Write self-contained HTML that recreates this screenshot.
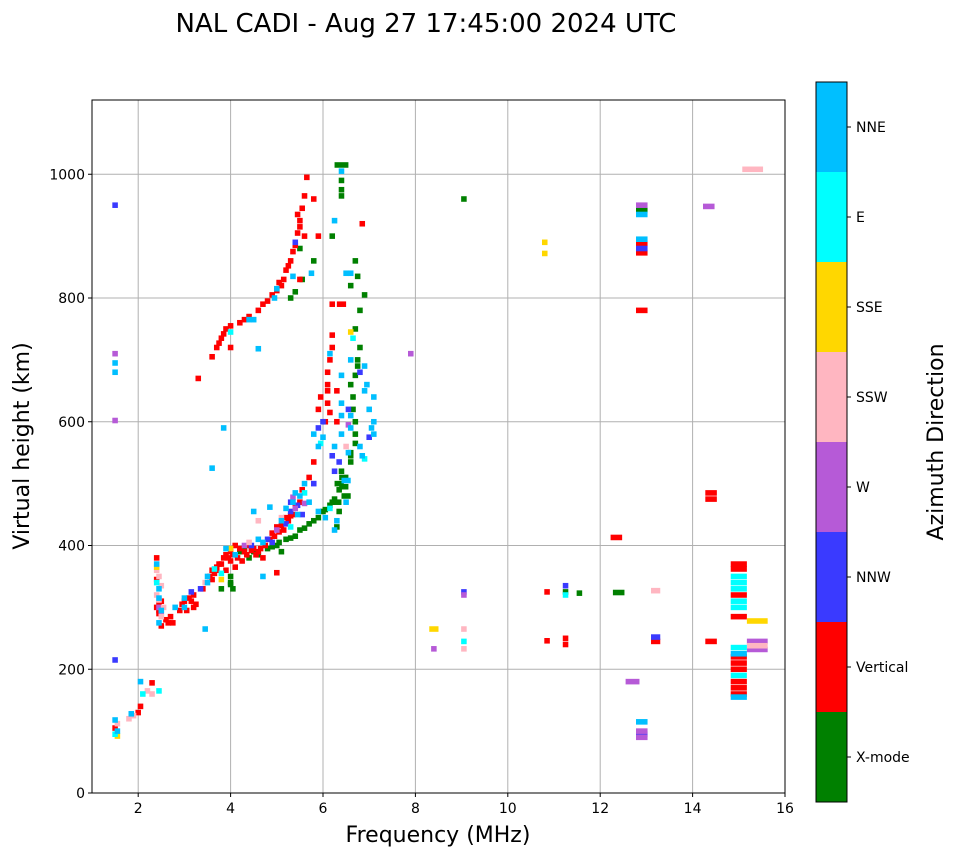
<!DOCTYPE html>
<html><head><meta charset="utf-8"><style>
body{margin:0;background:#fff;width:958px;height:857px;overflow:hidden;font-family:"Liberation Sans","DejaVu Sans",sans-serif;}
svg text{font-family:"DejaVu Sans","Liberation Sans",sans-serif;}
</style></head><body>
<svg id="chart" width="958" height="857" xmlns="http://www.w3.org/2000/svg">
<text x="426" y="32" font-size="26" text-anchor="middle">NAL CADI - Aug 27 17:45:00 2024 UTC</text>
<g id="grid"></g>
<g id="marks"></g>
<rect x="92" y="100" width="693" height="693" fill="none" stroke="#000" stroke-width="1"/>
<g id="axes"></g>
<text x="438" y="842" font-size="22" text-anchor="middle">Frequency (MHz)</text>
<text transform="translate(29,446) rotate(-90)" font-size="22" text-anchor="middle">Virtual height (km)</text>
<g id="cbar"></g>
<text transform="translate(943,442) rotate(-90)" font-size="22" text-anchor="middle">Azimuth Direction</text>
</svg>
<script>
const directions=["X-mode","Vertical","NNW","W","SSW","SSE","E","NNE"];
const dirColors=["#008000","#ff0000","#3a3aff","#b65ad7","#ffb6c1","#ffd700","#00ffff","#00bfff"];
const xTicks=[2,4,6,8,10,12,14,16];
const yTicks=[0,200,400,600,800,1000];
// series: [freq MHz, height km, optional width in MHz]
const sXmode=[[3.8,330],[4.0,340],[4.0,350],[4.4,380],[4.6,385],[4.8,395],[5.0,400],[5.2,410],[5.4,415],[5.5,425],[5.7,435],[5.9,445],[6.0,455],[6.15,465],[6.25,475],[6.35,490],[6.35,500,0.2],[6.4,520],[6.6,535],[6.6,550],[6.7,600],[6.65,640],[6.7,675],[6.75,700],[6.8,720],[6.7,750],[6.8,780],[6.9,805],[6.3,430],[6.35,455],[6.3,470,0.2],[5.5,880],[5.3,800],[5.8,860],[5.55,830],[5.4,810],[6.4,1015,0.3],[6.4,990],[6.4,975],[6.4,965],[6.2,900],[6.7,860],[6.75,835],[6.6,820],[9.05,960],[11.25,325],[11.55,323],[12.4,324,0.25],[12.9,942,0.25],[4.3,395],[5.1,390],[6.45,510,0.2],[6.5,480,0.2],[4.0,337],[6.6,660],[6.7,565],[5.05,405],[5.3,412],[5.6,428],[5.8,440],[6.05,458],[6.2,470],[4.9,398],[4.5,390],[6.45,495,0.2],[6.6,545],[6.65,620],[6.75,690],[6.7,580],[4.2,390],[4.05,330]];
const sVertical=[[1.5,105],[2.0,130],[2.05,140],[2.3,178],[2.4,380],[2.4,345],[2.45,305],[2.45,295],[2.6,280],[2.7,285],[2.75,275],[2.9,295],[3.0,310],[3.1,315],[3.2,320],[3.25,305],[3.55,350],[3.6,345],[3.7,360],[3.75,370],[3.85,380],[3.9,385],[4.0,390],[4.0,375],[4.2,395],[4.3,390],[4.4,400],[4.5,395],[4.6,390],[4.9,420],[5.0,430],[5.15,425],[5.2,445],[5.55,490],[5.7,510],[5.8,535],[6.05,600],[6.1,630],[6.1,660],[6.1,680],[6.2,740],[6.2,790],[6.4,790,0.2],[6.3,650],[5.9,620],[3.3,670],[3.6,705],[5.0,356],[3.7,720],[3.8,735],[3.9,750],[4.2,760],[4.4,770],[4.6,780],[4.8,795],[4.9,805],[5.05,825],[5.15,830],[5.2,845],[5.3,860],[5.35,875],[5.45,905],[5.5,925],[5.55,945],[5.6,965],[5.65,995],[5.8,960],[5.9,900],[6.85,920],[6.3,600],[10.85,325],[10.85,246],[11.25,250],[11.25,240],[12.35,413,0.25],[12.9,888,0.25],[12.9,873,0.25],[12.9,780,0.25],[13.2,245,0.2],[14.4,485,0.25],[14.4,475,0.25],[14.4,245,0.25],[15.0,370,0.35],[15.0,362,0.35],[15.0,320,0.35],[15.0,285,0.35],[15.0,220,0.35],[15.0,210,0.35],[15.0,200,0.35],[15.0,180,0.35],[15.0,170,0.35],[15.0,160,0.35],[2.5,270],[3.4,330],[4.1,400],[4.7,380],[5.25,440],[5.35,450],[2.45,290],[2.4,300],[2.5,310],[2.65,275],[2.95,305],[3.05,295],[3.15,310],[3.2,300],[3.65,355],[3.7,365],[3.8,370],[3.95,380],[4.05,385],[4.15,380],[4.25,375],[4.35,385],[4.45,392],[4.55,385],[4.65,395],[4.75,400],[4.85,410],[4.95,415],[5.05,422],[5.1,432],[5.3,448],[5.4,465],[5.5,470],[3.75,727],[3.85,742],[4.0,755],[4.3,765],[4.7,790],[5.0,812],[5.1,820],[5.25,852],[5.4,885],[5.5,915],[5.45,935],[6.15,700],[6.2,720],[6.1,650],[6.15,615],[5.95,640],[4.0,720],[5.5,830],[5.6,900],[4.1,365],[3.9,360],[3.6,360]];
const sNNW=[[1.5,950],[1.5,215],[3.35,330],[4.8,410],[5.3,455],[5.4,890],[5.9,590],[6.8,680],[7.0,575],[6.55,620],[9.05,325],[11.25,335],[12.9,880,0.25],[12.9,95,0.25],[13.2,252,0.2],[5.3,470],[6.2,545],[5.8,500],[5.45,465],[5.55,450],[5.2,435],[4.9,405],[4.45,400],[6.0,600],[6.25,520],[6.35,535],[3.15,325]];
const sW=[[1.5,710],[1.5,602],[5.4,460],[7.9,710],[8.4,233],[9.05,320],[12.9,950,0.25],[12.9,100,0.25],[12.9,90,0.25],[12.7,180,0.3],[14.35,948,0.25],[15.4,245,0.45],[15.4,232,0.45],[2.5,290],[5.0,425],[4.3,400],[5.6,468],[5.35,478],[6.55,595],[2.45,300]];
const sSSW=[[1.55,112],[1.8,120],[1.9,125],[2.2,165],[2.3,160],[2.4,360],[2.4,320],[2.5,285],[2.55,300],[4.6,440],[6.5,560],[9.05,265],[9.05,233],[13.2,327,0.2],[15.3,1008,0.45],[15.4,238,0.45],[2.45,350],[2.5,335],[2.45,312],[4.4,405],[3.45,340],[5.1,445]];
const sSSE=[[8.4,265,0.2],[10.8,890],[10.8,872],[6.6,745],[15.4,278,0.45],[1.55,92],[4.0,395],[2.4,365],[3.8,345]];
const sE=[[1.5,95],[2.1,160],[2.45,165],[3.8,355],[4.0,745],[6.65,735],[6.9,540],[9.05,245],[11.25,320],[15.0,350,0.35],[15.0,340,0.35],[15.0,330,0.35],[15.0,310,0.35],[15.0,300,0.35],[15.0,235,0.35],[15.0,190,0.35],[3.65,362],[5.3,430],[5.6,485],[6.15,460],[2.4,340],[5.95,565]];
const sNNE=[[1.55,100],[1.5,118],[2.05,180],[1.85,128],[1.5,695],[1.5,680],[2.4,370],[2.45,330],[2.45,275],[2.8,300],[3.0,300],[3.5,340],[4.1,385],[4.7,405],[5.1,440],[5.35,470],[5.5,480],[5.6,500],[5.9,560],[6.0,575],[6.15,710],[5.8,580],[3.6,525],[3.45,265],[3.85,590],[4.6,718],[4.7,350],[4.85,462],[4.5,455],[6.3,440],[6.25,425],[6.5,470],[4.5,765],[5.0,815],[5.75,840],[6.4,1005],[6.25,925],[6.5,840],[6.6,700],[6.9,650],[7.1,640],[7.0,620],[7.1,580],[6.8,560],[6.4,630],[6.4,580],[6.25,560],[12.9,935,0.25],[12.9,895,0.25],[12.9,115,0.25],[15.0,225,0.35],[15.0,155,0.35],[6.4,610],[6.6,590],[7.1,600],[2.45,315],[2.5,295],[3.0,315],[3.5,350],[3.9,395],[4.6,410],[5.2,460],[5.4,485],[5.45,450],[5.7,470],[5.9,455],[6.05,445],[6.5,505,0.2],[6.55,550],[6.4,675],[6.6,610],[6.95,660],[7.05,590],[6.85,545],[4.4,765],[4.95,800],[5.35,835],[6.6,840],[6.9,690]];
const series=[sXmode,sVertical,sNNW,sW,sSSW,sSSE,sE,sNNE];

const X0=92,X1=785,Y0=793,Y1=100,FMIN=1,FMAX=16,HMIN=0,HMAX=1120;
const xs=f=>X0+(f-FMIN)/(FMAX-FMIN)*(X1-X0);
const ys=h=>Y0-(h-HMIN)/(HMAX-HMIN)*(Y0-Y1);
const NS="http://www.w3.org/2000/svg";
function mk(tag,attrs,parent){const e=document.createElementNS(NS,tag);for(const k in attrs)e.setAttribute(k,attrs[k]);parent.appendChild(e);return e;}
const grid=document.getElementById('grid'),axes=document.getElementById('axes'),marks=document.getElementById('marks'),cbar=document.getElementById('cbar');
xTicks.forEach(t=>{const x=xs(t);
 const g=mk('line',{x1:x,x2:x,y1:Y1,y2:Y0,stroke:'#b0b0b0','stroke-width':1},grid);
 
 
 mk('line',{x1:x,x2:x,y1:Y0,y2:Y0+4,stroke:'#000'},axes);
 const tx=mk('text',{x:x,y:Y0+20,'font-size':14,'text-anchor':'middle'},axes);tx.textContent=t;
 
 
});
yTicks.forEach(t=>{const y=ys(t);
 const g=mk('line',{x1:X0,x2:X1,y1:y,y2:y,stroke:'#b0b0b0','stroke-width':1},grid);
 
 
 mk('line',{x1:X0-4,x2:X0,y1:y,y2:y,stroke:'#000'},axes);
 const tx=mk('text',{x:X0-7,y:y+5,'font-size':14,'text-anchor':'end'},axes);tx.textContent=t;
 
 
});
series.forEach((s,ci)=>{s.forEach(p=>{const w=p[2]||0.12;const x=xs(p[0]-w/2),x2=xs(p[0]+w/2);
 const r=mk('rect',{x:x,y:ys(p[1]+4.5),width:x2-x,height:ys(p[1]-4.5)-ys(p[1]+4.5),fill:dirColors[ci]},marks);
 
 
});});
const CB_T=82,CB_B=802,CB_L=816,CB_W=31,seg=(CB_B-CB_T)/directions.length;
directions.forEach((d,i)=>{const y=CB_B-(i+1)*seg;
 const r=mk('rect',{x:CB_L,y:y,width:CB_W,height:seg,fill:dirColors[i]},cbar);
 
 
 mk('line',{x1:CB_L+CB_W,x2:CB_L+CB_W+4,y1:y+seg/2,y2:y+seg/2,stroke:'#000'},cbar);
 const tx=mk('text',{x:CB_L+CB_W+9,y:y+seg/2+5,'font-size':14},cbar);tx.textContent=d;
 
 
});
mk('rect',{x:CB_L,y:CB_T,width:CB_W,height:CB_B-CB_T,fill:'none',stroke:'#000'},cbar);
</script>
</body></html>
